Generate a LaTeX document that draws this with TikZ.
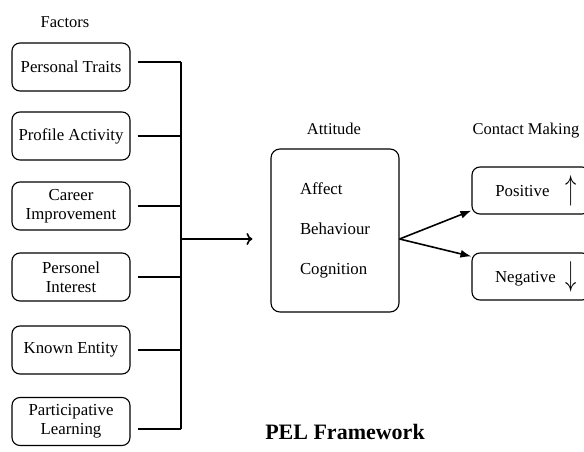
\documentclass[tikz,border=0pt]{standalone}
\usepackage{fontspec}
\setmainfont{Liberation Serif}
\usetikzlibrary{arrows.meta}

\tikzset{
  factor/.style={draw, rounded corners=8pt, line width=1.1pt, minimum width=118pt,
    minimum height=48pt, align=center, inner sep=2pt, font=\fontsize{16.8}{19}\selectfont},
  attbox/.style={draw, rounded corners=9pt, line width=1.1pt, minimum width=128pt,
    minimum height=163pt, align=left, font=\fontsize{16.8}{40}\selectfont},
  contact/.style={draw, rounded corners=8pt, line width=1.1pt, minimum width=118pt,
    minimum height=47pt, font=\fontsize{16.8}{19}\selectfont},
  heading/.style={font=\fontsize{16.5}{19}\selectfont},
  wire/.style={line width=1.6pt},
}

\begin{document}
\begin{tikzpicture}[x=1pt, y=-1pt]
	\useasboundingbox (0,0) rectangle (584,452);
	\clip (0,0) rectangle (584,452);

	% Headings
	\node[heading] (facthead) at (65,22) {Factors};
	\node[heading] (atthead) at (334,129) {Attitude};
	\node[heading, anchor=west] (conthead) at (469,131) {Contact Making};
	\node[font=\bfseries\fontsize{22}{26}\selectfont] (title) at (345,432) {PEL Framework};

	% Factor boxes
	\node[factor] (f1) at (71,67) {Personal Traits};
	\node[factor] (f2) at (71,136) {Profile Activity};
	\node[factor] (f3) at (71,206) {Career\\Improvement};
	\node[factor] (f4) at (71,277) {Personel\\Interest};
	\node[factor] (f5) at (71,350) {Known Entity};
	\node[factor] (f6) at (71,421.5) {Participative\\Learning};

	% Attitude and contact making
	\node[attbox] (att) at (335,230.5) {Affect\\Behaviour\\Cognition};
	\node[contact] (pos) at (531,190.5) {\hspace{10pt}Positive\hspace{16pt}\raisebox{-3pt}{\scalebox{1.3}[2.0]{$\uparrow$}}};
	\node[contact] (neg) at (531,276.5) {\hspace{10pt}Negative\hspace{10pt}\raisebox{-3pt}{\scalebox{1.3}[2.0]{$\downarrow$}}};

	% Bus
	\coordinate (bustop) at (181,62);
	\coordinate (busbot) at (181,429);
	\coordinate (busmid) at (181,239);
	\draw[wire] (bustop) -- (busbot);
	\draw[wire] ([xshift=7pt]f1.east |- bustop) -- (bustop);
	\draw[wire] ([xshift=7pt]f2.east) -- (f2.east -| bustop);
	\draw[wire] ([xshift=7pt]f3.east) -- (f3.east -| bustop);
	\draw[wire] ([xshift=7pt]f4.east) -- (f4.east -| bustop);
	\draw[wire] ([xshift=7pt]f5.east) -- (f5.east -| bustop);
	\draw[wire] ([xshift=7pt]f6.east |- busbot) -- (busbot);

	% Arrows
	\draw[wire, -{To[length=6pt, width=12pt]}, shorten >=18pt] (busmid) -- (busmid -| att.west);
	\draw[wire, -{Latex[length=11pt, width=8pt]}] (att.east |- busmid) -- ([yshift=4pt]pos.south west);
	\draw[wire, -{Latex[length=11pt, width=8pt]}] (att.east |- busmid) -- ([yshift=-4pt]neg.north west);

\end{tikzpicture}
\end{document}
